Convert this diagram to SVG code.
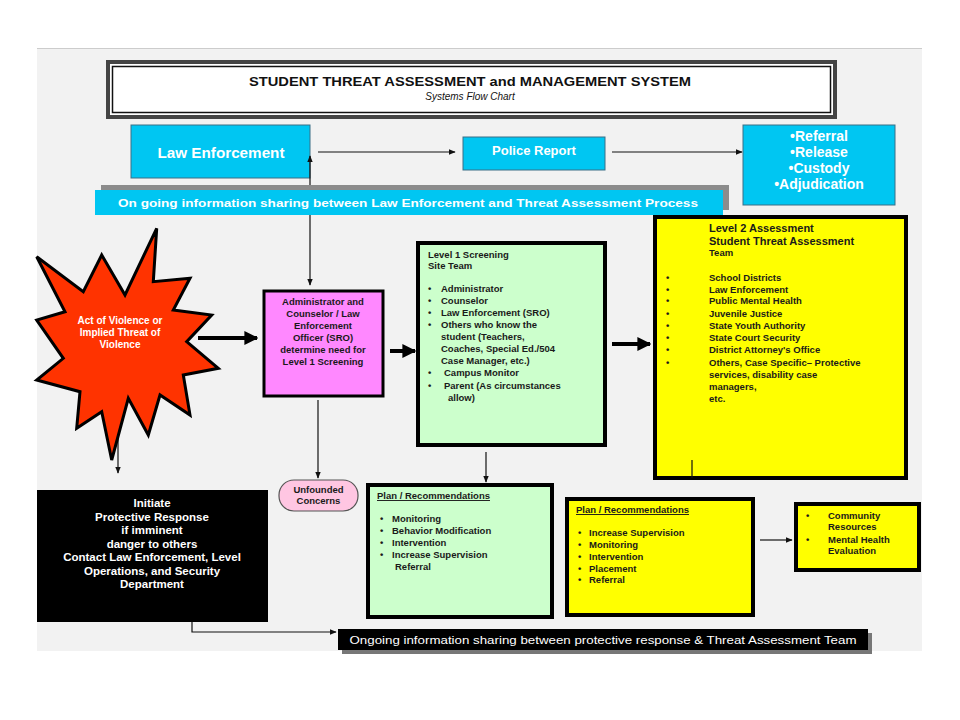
<svg xmlns="http://www.w3.org/2000/svg" width="960" height="720" viewBox="0 0 960 720">
<defs>
<style>
.t{font-family:"Liberation Sans",Arial,sans-serif}
.b{font-family:"Liberation Sans",Arial,sans-serif;font-weight:bold}
.wb{font-family:"Liberation Sans",Arial,sans-serif;font-weight:bold;fill:#fff}
.dk{font-family:"Liberation Sans",Arial,sans-serif;font-weight:bold;fill:#1a1a1a;font-size:9.5px}
.cyan{fill:#00c6f2;stroke:#3a6f86;stroke-width:1}
.thin{stroke:#111;stroke-width:1.2;fill:none}
.thick{stroke:#000;stroke-width:4;fill:none}
</style>
<marker id="ah" viewBox="0 0 10 10" refX="9" refY="5" markerWidth="7" markerHeight="7" orient="auto-start-reverse" markerUnits="userSpaceOnUse">
<path d="M0,1 L10,5 L0,9 z" fill="#111"/>
</marker>
<marker id="ahb" viewBox="0 0 10 10" refX="9" refY="5" markerWidth="14" markerHeight="14" orient="auto" markerUnits="userSpaceOnUse">
<path d="M0,0 L10,5 L0,10 z" fill="#000"/>
</marker>
</defs>
<rect x="0" y="0" width="960" height="720" fill="#fff"/>
<rect x="37" y="48" width="885" height="603" fill="#f2f2f2"/>
<line x1="37" y1="48.5" x2="922" y2="48.5" stroke="#ccc" stroke-width="1"/>

<g id="title">
<rect x="108" y="62" width="727" height="55" fill="#fff" stroke="#444" stroke-width="4"/>
<rect x="112.5" y="66.5" width="718" height="46" fill="#fff" stroke="#111" stroke-width="1.5"/>
<text class="b" x="470" y="86" font-size="13" text-anchor="middle" textLength="442" lengthAdjust="spacingAndGlyphs" fill="#111">STUDENT THREAT ASSESSMENT and MANAGEMENT SYSTEM</text>
<text class="t" x="470" y="100" font-size="10" font-style="italic" text-anchor="middle" fill="#111">Systems Flow Chart</text>
</g>

<g id="law-enforcement">
<rect class="cyan" x="131" y="125" width="179" height="53"/>
<text class="wb" x="221" y="158" font-size="14" text-anchor="middle" textLength="127" lengthAdjust="spacingAndGlyphs">Law Enforcement</text>
</g>
<g id="police-report">
<rect class="cyan" x="463" y="137" width="142" height="33"/>
<text class="wb" x="534" y="155" font-size="13" text-anchor="middle">Police Report</text>
</g>
<g id="outcomes">
<rect class="cyan" x="743" y="125" width="152" height="80"/>
<text class="wb" x="819" y="141" font-size="14" text-anchor="middle">•Referral</text>
<text class="wb" x="819" y="157" font-size="14" text-anchor="middle">•Release</text>
<text class="wb" x="819" y="173" font-size="14" text-anchor="middle">•Custody</text>
<text class="wb" x="819" y="189" font-size="14" text-anchor="middle">•Adjudication</text>
</g>

<g id="connectors">
<line class="thin" x1="318" y1="152" x2="455" y2="152" marker-end="url(#ah)"/>
<line class="thin" x1="612" y1="152" x2="742" y2="152" marker-end="url(#ah)"/>
<line class="thin" x1="310" y1="156" x2="310" y2="285" marker-start="url(#ah)" marker-end="url(#ah)"/>
<line class="thick" x1="198" y1="338" x2="257" y2="338" marker-end="url(#ahb)"/>
<line class="thin" x1="118" y1="418" x2="118" y2="473" marker-end="url(#ah)"/>
<line class="thick" x1="390" y1="351" x2="415" y2="351" marker-end="url(#ahb)"/>
<line class="thin" x1="318" y1="400" x2="318" y2="478" marker-end="url(#ah)"/>
<line class="thick" x1="612" y1="344" x2="650" y2="344" marker-end="url(#ahb)"/>
<line class="thin" x1="486" y1="452" x2="486" y2="482" marker-end="url(#ah)"/>
<line class="thin" x1="760" y1="540" x2="792" y2="540" marker-end="url(#ah)"/>
<polyline class="thin" points="192,622 192,632 336,632" marker-end="url(#ah)"/>
</g>

<g id="info-bar-top">
<rect x="101" y="185" width="628" height="25" fill="#8c8c8c"/>
<rect x="95" y="190" width="628" height="25" fill="#00c6f2"/>
<text class="wb" x="408" y="207" font-size="11" text-anchor="middle" textLength="580" lengthAdjust="spacingAndGlyphs">On going information sharing between Law Enforcement and Threat Assessment Process</text>
</g>

<g id="violence">
<polygon points="156.7,228.3 153.3,281.7 190,278.3 173.3,310 211.7,315 186.7,341.7 218.3,368.3 183.3,375 190,415 160,395 148.3,435 128.3,398.3 111.7,460 101.7,411.7 76.7,428.3 80,391.7 36.7,380 63.3,358.3 36.7,320 65,311.7 36.7,256.7 83.3,291.7 101.7,255 125,295" fill="#ff3300" stroke="#000" stroke-width="3" stroke-linejoin="miter"/>
<text class="wb" x="120" y="324" font-size="10" text-anchor="middle">Act of Violence or</text>
<text class="wb" x="120" y="336" font-size="10" text-anchor="middle">Implied Threat of</text>
<text class="wb" x="120" y="348" font-size="10" text-anchor="middle">Violence</text>
</g>

<g id="screening-decision">
<rect x="264" y="291" width="119" height="105" fill="#ff88ff" stroke="#000" stroke-width="3"/>
<g class="dk" text-anchor="middle" fill="#2a0a2a">
<text x="323" y="305">Administrator and</text>
<text x="323" y="317">Counselor / Law</text>
<text x="323" y="329">Enforcement</text>
<text x="323" y="341">Officer (SRO)</text>
<text x="323" y="353">determine need for</text>
<text x="323" y="365">Level 1 Screening</text>
</g>
</g>

<g id="unfounded">
<rect x="279" y="480" width="79" height="31" rx="15" fill="#ffc6e2" stroke="#555" stroke-width="1.2"/>
<text class="dk" x="318.5" y="493" text-anchor="middle" fill="#333">Unfounded</text>
<text class="dk" x="318.5" y="504" text-anchor="middle" fill="#333">Concerns</text>
</g>

<g id="level1">
<rect x="418" y="243" width="187" height="202" fill="#ccffcc" stroke="#000" stroke-width="4"/>
<g class="dk">
<text x="428" y="258">Level 1 Screening</text>
<text x="428" y="269">Site Team</text>
<text x="428" y="292">•</text><text x="441" y="292">Administrator</text>
<text x="428" y="304">•</text><text x="441" y="304">Counselor</text>
<text x="428" y="316">•</text><text x="441" y="316">Law Enforcement  (SRO)</text>
<text x="428" y="328">•</text><text x="441" y="328">Others who know the</text>
<text x="441" y="340">student  (Teachers,</text>
<text x="441" y="352">Coaches, Special Ed./504</text>
<text x="441" y="364">Case Manager, etc.)</text>
<text x="428" y="376">•</text><text x="444" y="376">Campus Monitor</text>
<text x="428" y="389">•</text><text x="444" y="389">Parent  (As circumstances</text>
<text x="448" y="401">allow)</text>
</g>
</g>

<g id="level2">
<rect x="655" y="217" width="251" height="261" fill="#ffff00" stroke="#000" stroke-width="4"/>
<line x1="692" y1="460" x2="692" y2="478" stroke="#111" stroke-width="1.2"/>
<g class="dk">
<text x="709" y="232" font-size="11">Level 2 Assessment</text>
<text x="709" y="245" font-size="11">Student Threat Assessment</text>
<text x="709" y="256">Team</text>
<text x="666" y="281">•</text><text x="709" y="281">School Districts</text>
<text x="666" y="293">•</text><text x="709" y="293">Law Enforcement</text>
<text x="666" y="304">•</text><text x="709" y="304">Public Mental Health</text>
<text x="666" y="317">•</text><text x="709" y="317">Juvenile Justice</text>
<text x="666" y="329">•</text><text x="709" y="329">State Youth Authority</text>
<text x="666" y="341">•</text><text x="709" y="341">State Court Security</text>
<text x="666" y="353">•</text><text x="709" y="353">District Attorney's Office</text>
<text x="666" y="366">•</text><text x="709" y="366">Others, Case Specific– Protective</text>
<text x="709" y="378">services, disability case</text>
<text x="709" y="390">managers,</text>
<text x="709" y="402">etc.</text>
</g>
</g>

<g id="protective-response">
<rect x="37" y="490" width="231" height="132" fill="#000"/>
<g class="wb" font-size="11.5" text-anchor="middle">
<text x="152" y="507">Initiate</text>
<text x="152" y="520.5">Protective Response</text>
<text x="152" y="534">if imminent</text>
<text x="152" y="547.5">danger to others</text>
<text x="152" y="561">Contact Law Enforcement, Level</text>
<text x="152" y="574.5">Operations, and Security</text>
<text x="152" y="588">Department</text>
</g>
</g>

<g id="plan1">
<rect x="368" y="485" width="184" height="132" fill="#ccffcc" stroke="#000" stroke-width="4"/>
<g class="dk">
<text x="377" y="499" text-decoration="underline">Plan / Recommendations</text>
<text x="380" y="522">•</text><text x="392" y="522">Monitoring</text>
<text x="380" y="534">•</text><text x="392" y="534">Behavior Modification</text>
<text x="380" y="546">•</text><text x="392" y="546">Intervention</text>
<text x="380" y="558">•</text><text x="392" y="558">Increase  Supervision</text>
<text x="395" y="570">Referral</text>
</g>
</g>

<g id="plan2">
<rect x="567" y="499" width="186" height="116" fill="#ffff00" stroke="#000" stroke-width="4"/>
<g class="dk">
<text x="576" y="513" text-decoration="underline">Plan / Recommendations</text>
<text x="578" y="536">•</text><text x="589" y="536">Increase  Supervision</text>
<text x="578" y="548">•</text><text x="589" y="548">Monitoring</text>
<text x="578" y="560">•</text><text x="589" y="560">Intervention</text>
<text x="578" y="572">•</text><text x="589" y="572">Placement</text>
<text x="578" y="583">•</text><text x="589" y="583">Referral</text>
</g>
</g>

<g id="community">
<rect x="796" y="504" width="123" height="66" fill="#ffff00" stroke="#000" stroke-width="4"/>
<g class="dk">
<text x="806" y="519">•</text><text x="828" y="519">Community</text>
<text x="828" y="530">Resources</text>
<text x="806" y="543">•</text><text x="828" y="543">Mental Health</text>
<text x="828" y="554">Evaluation</text>
</g>
</g>

<g id="info-bar-bottom">
<rect x="342" y="633" width="530" height="21" fill="#777"/>
<rect x="338" y="629" width="530" height="21" fill="#000"/>
<text class="t" x="603" y="644" font-size="11" fill="#fff" text-anchor="middle" textLength="507" lengthAdjust="spacingAndGlyphs">Ongoing information sharing between protective response &amp; Threat Assessment Team</text>
</g>
</svg>
